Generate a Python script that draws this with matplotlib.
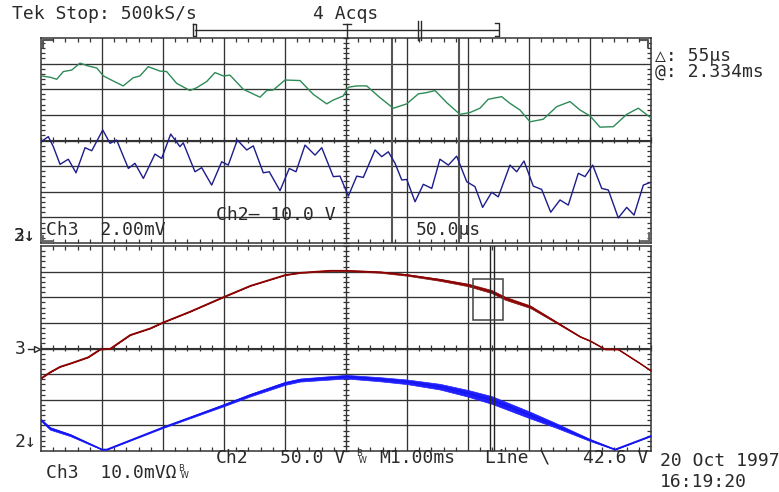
import matplotlib
matplotlib.use("Agg")
import matplotlib.pyplot as plt
from matplotlib.ticker import MultipleLocator, NullFormatter

# ---------------- data ----------------
# Upper (zoom) window: time in microseconds, amplitude in divisions
green_t = [0, 7.4, 12.9, 18.3, 25.2, 32.0, 38.5, 45.7, 51.1, 59.3, 67.4, 75.6, 81.1, 87.9,
           97.5, 103.0, 111.2, 122.1, 127.6, 135.8, 142.6, 149.4, 154.9, 165.8, 179.5, 185.0,
           190.4, 200.0, 212.3, 223.2, 234.2, 239.6, 247.8, 251.9, 258.8, 267.0, 277.9, 288.8,
           299.8, 309.3, 316.2, 323.0, 332.5, 343.4, 351.6, 359.8, 366.6, 377.6, 384.4, 392.6,
           400.8, 411.7, 422.7, 433.6, 441.8, 450.0, 458.2, 469.1, 480.1, 489.6, 499.2]
green_v = [2.52, 2.47, 2.39, 2.69, 2.75, 3.02, 2.91, 2.83, 2.52, 2.32, 2.13, 2.45, 2.52, 2.88,
           2.71, 2.69, 2.23, 1.95, 2.06, 2.30, 2.65, 2.52, 2.55, 2.00, 1.69, 1.95,
           1.97, 2.36, 2.34, 1.80, 1.43, 1.58, 1.74, 2.08, 2.13, 2.13, 1.67, 1.26,
           1.43, 1.82, 1.87, 1.95, 1.48, 1.02, 1.09, 1.26, 1.61, 1.71, 1.45, 1.19,
           0.73, 0.83, 1.32, 1.52, 1.19, 0.96, 0.52, 0.54, 1.02, 1.26, 0.91]

navy_t = [0, 6.0, 10.1, 15.6, 22.4, 28.7, 36.1, 41.6, 50.6, 56.6, 62.0, 71.6, 77.0, 83.9,
          93.4, 98.9, 106.3, 113.9, 116.6, 126.2, 131.7, 139.9, 148.1, 153.5, 160.9, 168.6,
          174.0, 182.2, 187.1, 195.9, 203.5, 209.0, 216.4, 224.6, 230.1, 239.6, 245.1, 251.9,
          258.8, 264.2, 273.8, 279.3, 284.7, 290.2, 295.7, 299.8, 306.6, 313.4, 320.3, 327.0,
          333.9, 340.7, 349.0, 355.7, 362.0, 369.4, 374.8, 384.4, 389.9, 395.9, 403.5, 410.4,
          417.8, 425.4, 432.2, 440.4, 445.9, 452.2, 459.6, 465.0, 473.2, 480.1, 486.1, 493.7, 498.6]
navy_v = [-0.05, 0.15, -0.24, -0.93, -0.73, -1.26, -0.28, -0.40, 0.41, -0.11, 0.02, -1.09, -0.89, -1.48,
          -0.53, -0.70, 0.25, -0.24, -0.09, -1.22, -1.06, -1.74, -0.83, -0.96, 0.02, -0.37,
          -0.21, -1.26, -1.22, -1.96, -1.09, -1.22, -0.18, -0.57, -0.28, -1.41, -1.39, -2.17,
          -1.39, -1.44, -0.37, -0.63, -0.44, -0.89, -1.54, -1.52, -2.39, -1.71, -1.87, -0.73,
          -0.96, -0.61, -1.61, -1.80, -2.61, -2.02, -2.20, -0.96, -1.22, -0.80, -1.78, -1.91,
          -2.80, -2.32, -2.52, -1.28, -1.41, -0.96, -1.87, -1.93, -3.02, -2.61, -2.91, -1.74, -1.65]

# Lower (main) window: time in milliseconds, amplitude in divisions, noise half-width in divisions
red_t = [0, 0.15, 0.31, 0.48, 0.77, 0.97, 1.13, 1.46, 1.79, 2.0, 2.44, 3.0, 3.43, 4.0, 4.25,
         4.74, 5.0, 5.56, 6.0, 6.54, 7.0, 7.39, 7.61, 8.02, 8.43, 8.84, 9.0, 9.25, 9.46, 9.82, 10.0]
red_v = [-1.16, -0.92, -0.71, -0.58, -0.34, -0.03, -0.01, 0.53, 0.79, 1.02, 1.44, 2.02, 2.45, 2.87, 2.96,
         3.04, 3.04, 2.98, 2.87, 2.68, 2.48, 2.22, 1.96, 1.63, 1.05, 0.46, 0.30, -0.03, -0.03, -0.58, -0.87]
red_noise = [0.01, 0.01, 0.01, 0.01, 0.01, 0.01, 0.01, 0.01, 0.01, 0.01, 0.01, 0.01, 0.01, 0.01, 0.015,
             0.02, 0.02, 0.025, 0.03, 0.04, 0.05, 0.06, 0.06, 0.05, 0.03, 0.015, 0.01, 0.01, 0.01, 0.01, 0.01]

blue_t = [0, 0.15, 0.48, 1.0, 1.08, 2.0, 3.0, 3.43, 4.0, 4.25, 5.0, 5.56, 6.0, 6.54, 7.0, 7.39,
          8.02, 8.43, 9.0, 9.41, 10.0]
blue_v = [-2.79, -3.12, -3.38, -3.94, -3.94, -3.08, -2.21, -1.82, -1.36, -1.23, -1.10, -1.20, -1.30,
          -1.49, -1.75, -2.01, -2.60, -2.99, -3.57, -3.94, -3.41]
blue_noise = [0.04, 0.05, 0.04, 0.01, 0.01, 0.02, 0.04, 0.05, 0.06, 0.06, 0.07, 0.08, 0.09, 0.11,
              0.13, 0.15, 0.13, 0.09, 0.04, 0.01, 0.01]

cursor_us = 288.0        # first cursor position inside zoom window
cursor_delta_us = 55.0   # cursor separation
zoom_start_ms = 7.08     # start of zoomed region in main record
zoom_width_ms = 0.5
zoom_box_div = (1.11, 2.70)

# ---------------- figure ----------------
W, H = 779, 492
fig = plt.figure(figsize=(W / 100, H / 100), dpi=100)
fig.patch.set_facecolor("white")

GRID = "#333333"
TXT = "#2a2a2a"


def frac(x0, y0, x1, y1):
    return [x0 / W, 1 - y1 / H, (x1 - x0) / W, (y1 - y0) / H]


def graticule(ax, xmax):
    ax.set_xlim(0, xmax)
    ax.set_ylim(-4, 4)
    step = xmax / 10
    for i in range(1, 10):
        ax.axvline(i * step, color=GRID, lw=0.95, zorder=1)
    for j in range(-3, 4):
        ax.axhline(j, color=GRID, lw=0.95, zorder=1)
    for s in ax.spines.values():
        s.set_color(GRID)
        s.set_linewidth(1.1)
    ax.xaxis.set_minor_locator(MultipleLocator(step / 5))
    ax.yaxis.set_minor_locator(MultipleLocator(0.2))
    ax.xaxis.set_major_locator(MultipleLocator(step))
    ax.yaxis.set_major_locator(MultipleLocator(1))
    ax.xaxis.set_major_formatter(NullFormatter())
    ax.yaxis.set_major_formatter(NullFormatter())
    ax.tick_params(which="both", direction="in", top=True, right=True,
                   color=GRID, width=0.9)
    ax.tick_params(which="minor", length=3.0)
    ax.tick_params(which="major", length=0)
    # centre cross-hair with ticks on both sides
    sx = ax.secondary_xaxis(0.5)
    sx.xaxis.set_minor_locator(MultipleLocator(step / 5))
    sx.xaxis.set_major_locator(MultipleLocator(step))
    sx.xaxis.set_major_formatter(NullFormatter())
    sx.tick_params(which="both", direction="inout", length=5, color=GRID, width=0.9)
    for k in ("bottom", "top"):
        sx.spines[k].set_color(GRID)
    sy = ax.secondary_yaxis(0.5)
    sy.yaxis.set_minor_locator(MultipleLocator(0.2))
    sy.yaxis.set_major_locator(MultipleLocator(1))
    sy.yaxis.set_major_formatter(NullFormatter())
    sy.tick_params(which="both", direction="inout", length=5, color=GRID, width=0.9)
    for k in ("left", "right"):
        sy.spines[k].set_color(GRID)


# Upper zoom window
ax1 = fig.add_axes(frac(41, 38, 651, 243))
graticule(ax1, 500)
ax1.plot(green_t, green_v, color="#2e8b57", lw=1.0, zorder=3)
ax1.plot(navy_t, navy_v, color="#1c1c8c", lw=1.0, zorder=3)
for c in (cursor_us, cursor_us + cursor_delta_us):
    ax1.axvline(c, color="#555555", lw=1.5, zorder=2)

# Lower main window
ax2 = fig.add_axes(frac(41, 246, 651, 451))
graticule(ax2, 10)
rlo = [v - n for v, n in zip(red_v, red_noise)]
rhi = [v + n for v, n in zip(red_v, red_noise)]
ax2.fill_between(red_t, rlo, rhi, color="#8b1010", lw=0.5, zorder=3)
ax2.plot(red_t, red_v, color="#8b0000", lw=1.0, zorder=3)
blo = [v - n for v, n in zip(blue_v, blue_noise)]
bhi = [v + n for v, n in zip(blue_v, blue_noise)]
ax2.fill_between(blue_t, blo, bhi, color="#2020ff", lw=0.5, zorder=3)
ax2.plot(blue_t, blue_v, color="#1414f0", lw=1.1, zorder=3)
cur_ms = zoom_start_ms + cursor_us / 1000
for c in (cur_ms, cur_ms + cursor_delta_us / 1000):
    ax2.axvline(c, color="#222222", lw=1.0, zorder=4)
ax2.add_patch(plt.Rectangle((zoom_start_ms, zoom_box_div[0]), zoom_width_ms,
                            zoom_box_div[1] - zoom_box_div[0], fill=False,
                            edgecolor="#444444", lw=1.1, zorder=4))

# Overlay for readouts (pixel coordinates)
ov = fig.add_axes([0, 0, 1, 1], zorder=10)
ov.set_xlim(0, W)
ov.set_ylim(H, 0)
ov.axis("off")
ov.patch.set_alpha(0)

fs = 13
kw = dict(color=TXT, fontsize=fs, va="center", family="DejaVu Sans Mono")
sm = dict(color=TXT, fontsize=6, va="center", linespacing=0.8, family="DejaVu Sans")
ov.text(12, 14, "Tek Stop: 500kS/s", **kw)
ov.text(313, 14, "4 Acqs", **kw)
ov.text(655, 64, "\u25B3: 55\u00B5s\n@: 2.334ms", linespacing=0.85, **kw)
ov.text(46, 230, "Ch3  2.00mV", **kw)
ov.text(216, 215, "Ch2\u2014 10.0 V", **kw)
ov.text(416, 230, "50.0\u00B5s", **kw)
ov.text(14, 236, "3\u2193", **kw)
ov.text(14, 236, "2\u2193", **kw)
ov.text(15, 349, "3", **kw)
ov.plot([28, 35], [349, 349], color=TXT, lw=1)
ov.plot([37], [349], marker=">", ms=5, mfc="white", mec=TXT, mew=1)
ov.text(15, 442, "2\u2193", **kw)
ov.text(216, 458, "Ch2", **kw)
ov.text(280, 458, "50.0 V", **kw)
ov.text(356, 457, "B\n W", **sm)
ov.text(379, 458, "M1.00ms", **kw)
ov.text(485, 458, "Line \\", **kw)
ov.text(583, 458, "42.6 V", **kw)
ov.text(46, 473, "Ch3  10.0mV\u03A9", **kw)
ov.text(178, 472, "B\n W", **sm)
ov.text(660, 461, "20 Oct 1997", **kw)
ov.text(660, 482, "16:19:20", **kw)

# record-position bracket
ov.plot([195, 498], [30, 30], color=TXT, lw=1)
ov.plot([193, 193, 196, 196, 193], [24, 36, 36, 24, 24], color=TXT, lw=1)
ov.plot([495, 499, 499, 495], [23, 23, 36, 36], color=TXT, lw=1)
ov.plot([343, 351], [24, 24], color=TXT, lw=1)
ov.plot([347, 347], [24, 38], color=TXT, lw=1)
ov.plot([418, 418], [21, 40], color=TXT, lw=1)
ov.plot([421, 421], [21, 40], color=TXT, lw=1)

# small reference markers in the window corners
ov.plot([43, 43, 52], [47, 40, 40], color="#555555", lw=1.5)
ov.plot([641, 648, 648], [40, 40, 47], color="#555555", lw=1.5)
ov.plot([42, 42, 52], [236, 241, 241], color="#666666", lw=2)
ov.plot([641, 649, 649], [241, 241, 233], color="#666666", lw=2)

fig.savefig("out.png", dpi=100)
